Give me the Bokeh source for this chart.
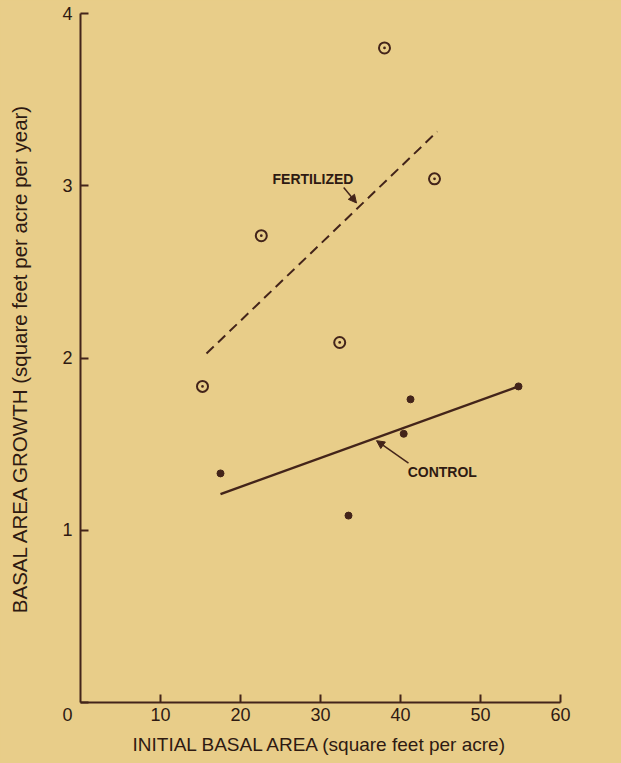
from bokeh.plotting import figure
from bokeh.models import Arrow, NormalHead, GlobalInlineStyleSheet
from bokeh.core.properties import value
from bokeh.embed import file_html
from bokeh.resources import INLINE

# ---- data ----
fert_x = [15.25, 22.6, 32.4, 38.0, 44.25]
fert_y = [1.835, 2.71, 2.09, 3.80, 3.04]
ctrl_x = [17.5, 33.5, 40.4, 41.25, 54.75]
ctrl_y = [1.33, 1.085, 1.56, 1.76, 1.835]
fert_line_x = [15.75, 44.6]
fert_line_y = [2.026, 3.315]
ctrl_line_x = [17.5, 54.75]
ctrl_line_y = [1.21, 1.835]
x_ticks = [10, 20, 30, 40, 50, 60]
y_ticks = [0, 1, 2, 3, 4]
x_title = "INITIAL BASAL AREA (square feet per acre)"
y_title = "BASAL AREA GROWTH (square feet per acre per year)"

BG = "#E8CD89"
INK = "#43241a"
TXT = "#2e1a12"
FONT = "Liberation Sans"

p = figure(width=621, height=763, x_range=(0, 60), y_range=(0, 4),
           output_backend="svg", toolbar_location=None,
           min_border_left=80, min_border_right=61,
           min_border_top=13, min_border_bottom=61)
p.stylesheets = [GlobalInlineStyleSheet(css="body { background-color: %s; }" % BG)]
p.background_fill_color = BG
p.border_fill_color = BG
p.outline_line_color = None
p.grid.visible = False

p.xaxis.ticker = x_ticks
p.yaxis.ticker = y_ticks
p.yaxis.major_label_overrides = {0: "\n0"}
for ax in (p.xaxis, p.yaxis):
    ax.axis_line_width = 2
    ax.axis_line_color = INK
    ax.major_tick_line_width = 2
    ax.major_tick_line_color = INK
    ax.major_tick_in = 8
    ax.major_tick_out = 0
    ax.minor_tick_in = 0
    ax.minor_tick_out = 0
    ax.major_label_text_font = FONT
    ax.major_label_text_font_size = "18px"
    ax.major_label_text_color = TXT
    ax.axis_label_text_font = FONT
    ax.axis_label_text_font_style = "normal"
    ax.axis_label_text_color = TXT
p.xaxis.major_label_standoff = 5
p.yaxis.major_label_standoff = 8
p.xaxis.axis_label = x_title
p.yaxis.axis_label = y_title
p.xaxis.axis_label_text_font_size = "19px"
p.yaxis.axis_label_text_font_size = "20.5px"
p.xaxis.axis_label_standoff = 10
p.yaxis.axis_label_standoff = 28

# lines
p.line(fert_line_x, fert_line_y, line_color=INK, line_width=2, line_dash="10 6")
p.line(ctrl_line_x, ctrl_line_y, line_color=INK, line_width=2.5)

# points
p.scatter(fert_x, fert_y, marker="circle_dot", size=11, line_width=2,
          line_color=INK, fill_color=None)
p.scatter(ctrl_x, ctrl_y, marker="circle", size=7, line_color=INK, fill_color=INK)

# annotations
p.text(x=[24.0], y=[3.04], text=["FERTILIZED"], text_font=value(FONT),
       text_font_size="14px", text_font_style="bold", text_color=TXT,
       text_align="left", text_baseline="middle")
p.text(x=[40.9], y=[1.34], text=["CONTROL"], text_font=value(FONT),
       text_font_size="14px", text_font_style="bold", text_color=TXT,
       text_align="left", text_baseline="middle")
p.add_layout(Arrow(end=NormalHead(size=8, fill_color=INK, line_color=INK),
                   x_start=32.9, y_start=2.99, x_end=34.5, y_end=2.90,
                   line_color=INK, line_width=1.5))
p.add_layout(Arrow(end=NormalHead(size=8, fill_color=INK, line_color=INK),
                   x_start=41.0, y_start=1.39, x_end=37.0, y_end=1.52,
                   line_color=INK, line_width=1.5))

open("out.html", "w").write(file_html(p, INLINE))
